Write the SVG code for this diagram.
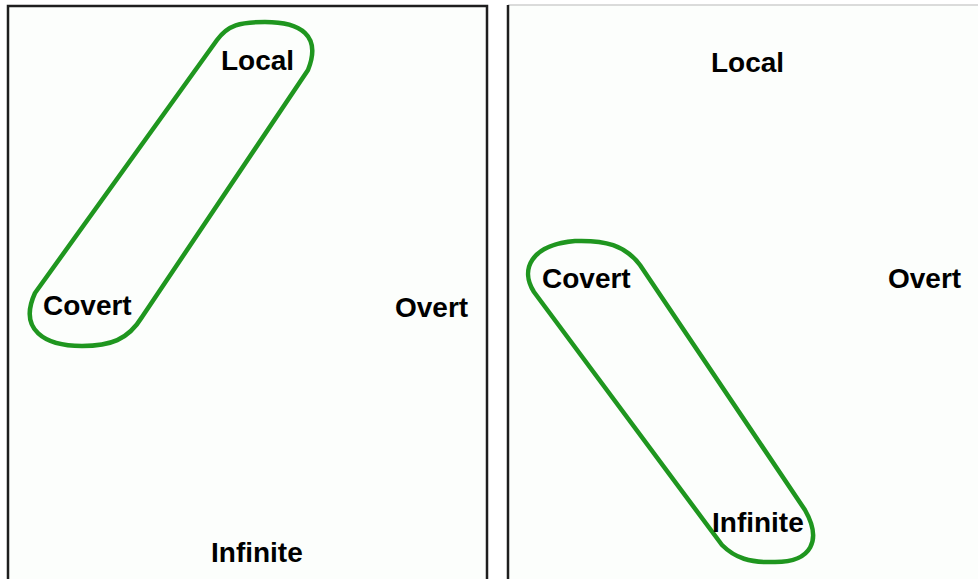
<svg xmlns="http://www.w3.org/2000/svg" width="978" height="579" viewBox="0 0 978 579">
<style>
.frame{fill:#fcfefc;stroke:#1e1e1e;stroke-width:2.5}
.loop{fill:none;stroke:#1f961f;stroke-width:4.5;stroke-linejoin:round}
.lbl{font-family:"Liberation Sans",Arial,sans-serif;font-weight:bold;font-size:28px;fill:#000}
</style>
<rect width="978" height="579" fill="#ffffff"/>
<g id="panel-left">
<path class="frame" d="M8 590 V6 H487 V590"/>
</g>
<g id="panel-right">
<rect x="508" y="5" width="480" height="590" fill="#fcfefc"/>
<line x1="508" y1="5" x2="978" y2="5" stroke="#cfcfcf" stroke-width="1.5"/>
<line x1="508" y1="5" x2="508" y2="590" stroke="#1e1e1e" stroke-width="2.5"/>
</g>
<g id="connectors">
<path class="loop" d="M217 40 C228 25 240 22 265 22 C300 22 322 35 308 70 L142 317 C128 340 110 346 82 346 C45 346 18 330 35 293 Z"/>
<path class="loop" d="M534 292 C520 270 530 245 575 241 C605 240 625 245 640 265 L805 510 C822 540 812 562 775 562 C750 563 735 558 722 545 Z"/>
</g>
<g id="left-local"><text class="lbl" x="221" y="70">Local</text></g>
<g id="left-covert"><text class="lbl" x="43" y="315">Covert</text></g>
<g id="left-overt"><text class="lbl" x="395" y="317">Overt</text></g>
<g id="left-infinite"><text class="lbl" x="211" y="562">Infinite</text></g>
<g id="right-local"><text class="lbl" x="711" y="72">Local</text></g>
<g id="right-covert"><text class="lbl" x="542" y="288">Covert</text></g>
<g id="right-overt"><text class="lbl" x="888" y="288">Overt</text></g>
<g id="right-infinite"><text class="lbl" x="712" y="532">Infinite</text></g>
</svg>
